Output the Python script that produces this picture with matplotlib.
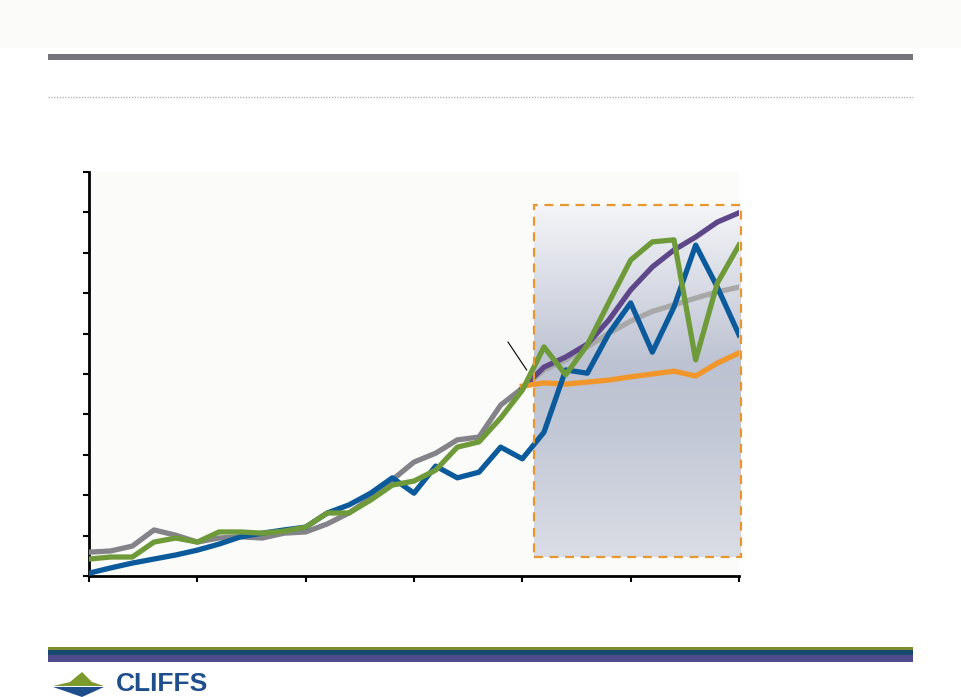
import numpy as np
import matplotlib
matplotlib.use("Agg")
import matplotlib.pyplot as plt
from matplotlib.colors import LinearSegmentedColormap
from matplotlib.patches import Rectangle, Polygon

# ---- data (index positions 0..30, ticks every 5) ----
x_hist = list(range(0, 21))
x_all = list(range(0, 31))
x_proj = list(range(20, 31))

blue = [0.07, 0.20, 0.32, 0.42, 0.52, 0.64, 0.79, 0.97, 1.06, 1.14, 1.21,
        1.56, 1.76, 2.05, 2.43, 2.05, 2.72, 2.43, 2.57, 3.19, 2.90,
        3.56, 5.10, 5.02, 6.01, 6.76, 5.54, 6.66, 8.19, 7.15, 5.97]
green = [0.42, 0.47, 0.47, 0.84, 0.94, 0.84, 1.09, 1.09, 1.06, 1.11, 1.21,
         1.56, 1.56, 1.88, 2.25, 2.35, 2.62, 3.19, 3.32, 3.91, 4.60,
         5.67, 4.98, 5.72, 6.78, 7.82, 8.27, 8.32, 5.35, 7.25, 8.19]
gray_hist = [0.59, 0.62, 0.74, 1.14, 1.01, 0.84, 0.94, 0.97, 0.94, 1.06, 1.09,
             1.29, 1.56, 1.93, 2.38, 2.82, 3.04, 3.37, 3.44, 4.23, 4.65]
gray_proj = [4.65, 5.10, 5.35, 5.67, 6.01, 6.31, 6.55, 6.71, 6.88, 7.03, 7.15]
purple = [4.65, 5.17, 5.42, 5.74, 6.34, 7.08, 7.65, 8.07, 8.39, 8.76, 8.99]
orange = [4.70, 4.78, 4.75, 4.80, 4.85, 4.93, 5.00, 5.07, 4.95, 5.27, 5.52]

xticks = [0, 5, 10, 15, 20, 25, 30]
yticks = list(range(0, 11))

W, H = 961, 697
fig = plt.figure(figsize=(W / 100, H / 100), dpi=100)
fig.patch.set_facecolor("white")

def fx(px):
    return px / W

def fy(py):
    return 1 - py / H

# top band
fig.patches.append(Rectangle((0, fy(48)), 1, 48 / H, transform=fig.transFigure,
                             facecolor="#fbfbf9", edgecolor="none"))
# gray header bar
fig.patches.append(Rectangle((fx(48), fy(60)), fx(913 - 48), 6 / H, transform=fig.transFigure,
                             facecolor="#76757d", edgecolor="none"))
# dotted separator
fig.lines.append(plt.Line2D([fx(48), fx(913)], [fy(97), fy(97)], transform=fig.transFigure,
                            color="#b5b5b5", lw=1.0, ls=(0, (1, 1))))
# bottom bars
fig.patches.append(Rectangle((fx(48), fy(650)), fx(913 - 48), 3 / H, transform=fig.transFigure,
                             facecolor="#7d8f2c", edgecolor="none"))
fig.patches.append(Rectangle((fx(48), fy(655)), fx(913 - 48), 5 / H, transform=fig.transFigure,
                             facecolor="#174a6e", edgecolor="none"))
fig.patches.append(Rectangle((fx(48), fy(662)), fx(913 - 48), 7 / H, transform=fig.transFigure,
                             facecolor="#4e4a8c", edgecolor="none"))
# logo
fig.patches.append(Polygon([(fx(53), fy(686)), (fx(70), fy(682)), (fx(82), fy(672)),
                            (fx(92), fy(682)), (fx(104), fy(686))],
                           closed=True, transform=fig.transFigure, facecolor="#7d9a2c", edgecolor="none"))
fig.patches.append(Polygon([(fx(53), fy(687)), (fx(82), fy(697)), (fx(104), fy(687))],
                           closed=True, transform=fig.transFigure, facecolor="#1f4e8c", edgecolor="none"))
fig.text(fx(116), fy(691), "CLIFFS", color="#1f4e8c", fontsize=19, fontweight="bold",
         family="Liberation Sans", va="baseline", ha="left")

# main axes
ax = fig.add_axes([fx(89), fy(576), fx(739 - 89), (576 - 172) / H])
ax.set_facecolor("#fbfcf9")
ax.set_xlim(0, 30)
ax.set_ylim(0, 10)

# shaded forecast box with gradient
x0, x1 = 20.54, 30.09
y0, y1 = 0.47, 9.18
cmap = LinearSegmentedColormap.from_list(
    "g", [(0.0, "#dadde5"), (0.35, "#c3c8d6"), (0.55, "#bdc2d2"), (1.0, "#f4f5f8")])
grad = np.linspace(0, 1, 256).reshape(-1, 1)
ax.imshow(grad, extent=[x0, x1, y0, y1], origin="lower", aspect="auto", cmap=cmap,
          zorder=1, clip_on=False)
ax.add_patch(Rectangle((x0, y0), x1 - x0, y1 - y0, fill=False, edgecolor="#e8962e",
                       lw=1.6, ls=(0, (4, 3)), zorder=6, clip_on=False))

lw = 3.8
ax.plot(x_hist, gray_hist, color="#85838a", lw=lw, zorder=3)
ax.plot(x_proj, gray_proj, color="#a8a8a8", lw=lw, zorder=3)
ax.plot(x_proj, purple, color="#5e4788", lw=lw, zorder=3)
ax.plot(x_proj, orange, color="#f0962a", lw=lw, zorder=3)
ax.plot(x_all, blue, color="#0b5a9c", lw=lw, zorder=4)
ax.plot(x_all, green, color="#6e9a3a", lw=lw, zorder=5)

# leader line
ax.plot([19.34, 20.2], [5.79, 5.10], color="black", lw=0.8, zorder=6)

ax.set_xticks(xticks)
ax.set_yticks(yticks)
ax.set_xticklabels([])
ax.set_yticklabels([])
ax.tick_params(axis="both", direction="out", length=4, width=1.5, color="black")
for s in ["top", "right"]:
    ax.spines[s].set_visible(False)
for s in ["left", "bottom"]:
    ax.spines[s].set_linewidth(2)
    ax.spines[s].set_color("black")

fig.savefig("out.png", dpi=100)
